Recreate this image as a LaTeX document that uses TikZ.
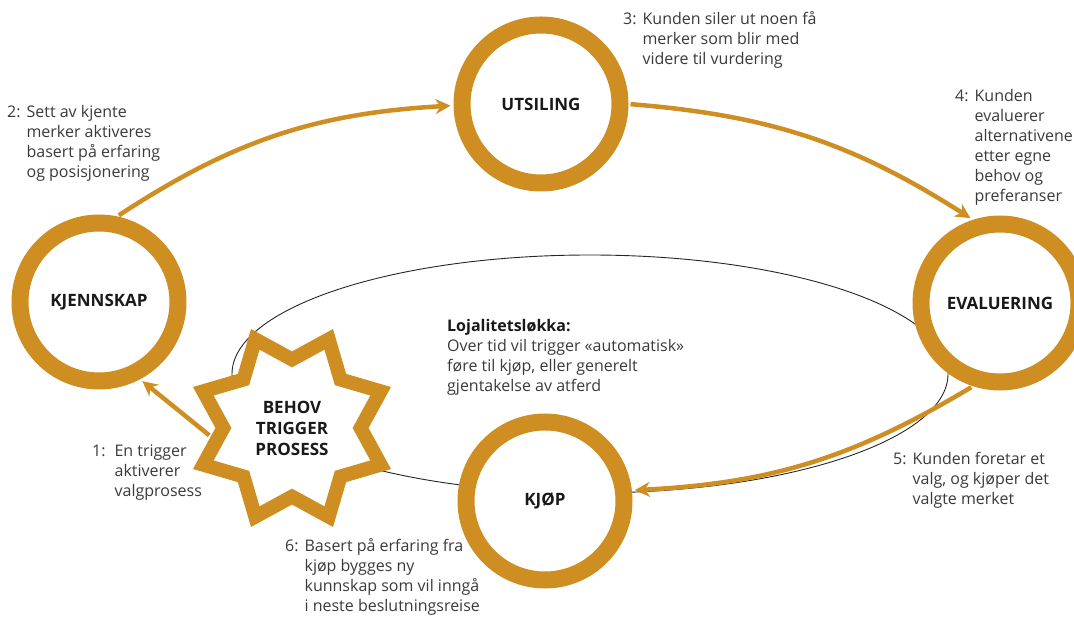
\documentclass[tikz,border=0pt]{standalone}
\usepackage{fontspec}
\setmainfont{Open Sans}
\usetikzlibrary{arrows.meta, shapes.geometric}

\definecolor{gold}{RGB}{206,142,34}
\definecolor{txtgray}{RGB}{58,58,58}

\begin{document}
\begin{tikzpicture}[
            x=1pt, y=1pt,
            % Stegene i beslutningsreisen
            stage/.style={
                circle,
                draw=gold,
                fill=white,
                line width=17pt,
                minimum size=158pt,
                inner sep=0pt,
                text=black!90,
                font=\fontsize{17}{20}\selectfont\bfseries
            },
            % Stjernen i midten
            trigger/.style={
                star,
                star points=8,
                star point ratio=1.4,
                shape border rotate=22.5,
                draw=gold,
                fill=white,
                line width=14pt,
                minimum size=192pt,
                inner sep=0pt,
                align=center,
                text=black!90,
                font=\fontsize{17}{21}\selectfont\bfseries
            },
            % Piler mellom stegene
            flow/.style={
                draw=gold,
                line width=4.5pt,
                -{Stealth[length=15pt, width=15pt]},
                shorten >=3pt,
                shorten <=2pt
            },
            % Lojalitetsløkka
            loyalty/.style={
                ellipse,
                draw=black!85,
                line width=0.9pt,
                minimum width=716pt,
                minimum height=238pt
            },
            % Forklarende tekster
            note/.style={
                anchor=north west,
                inner sep=0pt,
                text=txtgray,
                font=\fontsize{16}{20}\selectfont
            }
        ]

            \useasboundingbox (0,0) rectangle (1074,-617);

            % Løkka ligger bak stjernen og sirklene
            \node [loyalty] (loop) at (590,-374) {};

            % Stjerne og sirkler
            \node [trigger] (trig) at (292,-428) {BEHOV\\TRIGGER\\PROSESS};
            \node [stage] (kjenn) at (99,-302) {KJENNSKAP};
            \node [stage] (utsil) at (541,-104) {UTSILING};
            \node [stage] (evalu) at (1000,-303) {EVALUERING};
            \node [stage] (kjop) at (545,-501) {KJØP};

            % Piler
            \draw [flow] (trig.186) -- (kjenn.-62);
            \draw [flow] (kjenn.78) to[bend left=15] (utsil.181);
            \draw [flow] (utsil.east) to[bend left=14] (evalu.108);
            \draw [flow] (evalu.252) to[bend left=14] (kjop.7);

            % Tekster
            \node [note] (n1) at (92,-442) {\begin{tabular}{@{}l@{\hspace{9pt}}l@{}}1: & En trigger\\ & aktiverer\\ & valgprosess\end{tabular}};
            \node [note] (n2) at (7,-103) {\begin{tabular}{@{}l@{\hspace{6pt}}l@{}}2: & Sett av kjente\\ & merker aktiveres\\ & basert på erfaring\\ & og posisjonering\end{tabular}};
            \node [note] (n3) at (623,-10) {\begin{tabular}{@{}l@{\hspace{6pt}}l@{}}3: & Kunden siler ut noen få\\ & merker som blir med\\ & videre til vurdering\end{tabular}};
            \node [note] (n4) at (955,-87) {\begin{tabular}{@{}l@{\hspace{6pt}}l@{}}4: & Kunden\\ & evaluerer\\ & alternativene\\ & etter egne\\ & behov og\\ & preferanser\end{tabular}};
            \node [note] (n5) at (893,-450) {\begin{tabular}{@{}l@{\hspace{6pt}}l@{}}5: & Kunden foretar et\\ & valg, og kjøper det\\ & valgte merket\end{tabular}};
            \node [note] (n6) at (285,-537) {\begin{tabular}{@{}l@{\hspace{6pt}}l@{}}6: & Basert på erfaring fra\\ & kjøp bygges ny\\ & kunnskap som vil inngå\\ & i neste beslutningsreise\end{tabular}};
            \node [note, align=left] (lojal) at (447,-319) {{\color{black!90}\bfseries Lojalitetsløkka:}\\Over tid vil trigger «automatisk»\\føre til kjøp, eller generelt\\gjentakelse av atferd};

        \end{tikzpicture}
\end{document}
